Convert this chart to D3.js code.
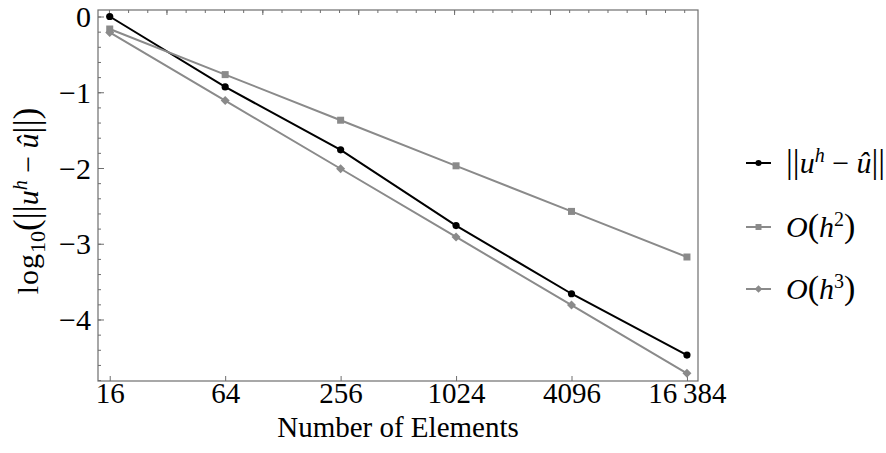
<!DOCTYPE html>
<html>
<head>
<meta charset="utf-8">
<script src="https://cdn.jsdelivr.net/npm/d3@7"></script>
<style>
  html, body { margin: 0; padding: 0; background: #fff; }
  svg text, svg tspan { font-family: "Liberation Serif", Tinos, "Times New Roman", "DejaVu Serif", serif !important; fill: #000; }
</style>
</head>
<body>
<svg id="chart" width="886" height="453"></svg>
<script>
// ---- data ----
const elements = [16, 64, 256, 1024, 4096, 16384];
const xTickLabels = ["16", "64", "256", "1024", "4096", "16\u2009384"];
const errorNorm = [0.0, -0.93, -1.76, -2.76, -3.66, -4.47];
const orderH2 = [-0.165, -0.767, -1.369, -1.971, -2.573, -3.175];
const orderH3 = [-0.21, -1.11, -2.01, -2.91, -3.81, -4.71];
const yTickValues = [0, -1, -2, -3, -4];
const yTickLabels = ["0", "\u22121", "\u22122", "\u22123", "\u22124"];

const series = [
  { name: "err", values: errorNorm, color: "#000000", marker: "circle" },
  { name: "h2", values: orderH2, color: "#8a8a8a", marker: "square" },
  { name: "h3", values: orderH3, color: "#8a8a8a", marker: "diamond" }
];

const FONT = '"Liberation Serif", Tinos, "Times New Roman", "DejaVu Serif", serif';
const svg = d3.select("#chart");
const pL = 98, pR = 698, pT = 10, pB = 381;

const x = d3.scaleLinear().domain([1.143, 4.272]).range([pL, pR]);
const y = d3.scaleLinear().domain([-4.812, 0.086]).range([pB, pT]);
const lx = n => x(Math.log10(n));

const frameColor = "#6e6e6e";

// frame
svg.append("rect")
  .attr("x", pL).attr("y", pT)
  .attr("width", pR - pL).attr("height", pB - pT)
  .attr("fill", "none").attr("stroke", frameColor).attr("stroke-width", 1.2);

// left axis ticks (inside)
const yMinor = d3.range(-4.8, 0.001, 0.2).map(v => Math.round(v * 10) / 10);
svg.append("g").attr("transform", `translate(${pL},0)`)
  .call(d3.axisLeft(y).tickValues(yMinor).tickSize(-3).tickFormat(""))
  .call(g => g.select(".domain").remove())
  .call(g => g.selectAll("line").attr("stroke", frameColor));
svg.append("g").attr("transform", `translate(${pL},0)`)
  .call(d3.axisLeft(y).tickValues(yTickValues).tickSize(-6)
    .tickFormat((d, i) => yTickLabels[i]).tickPadding(7))
  .attr("font-family", FONT)
  .call(g => g.select(".domain").remove())
  .call(g => g.selectAll("line").attr("stroke", frameColor))
  .call(g => g.selectAll("text").attr("font-size", 30).attr("fill", "#000").attr("dy", "0.34em"));

// bottom axis ticks (inside) with labels
svg.append("g").attr("transform", `translate(0,${pB})`)
  .call(d3.axisBottom(x).tickValues(elements.map(Math.log10)).tickSize(-5)
    .tickFormat((d, i) => xTickLabels[i]))
  .attr("font-family", FONT)
  .call(g => g.select(".domain").remove())
  .call(g => g.selectAll("line").attr("stroke", frameColor))
  .call(g => g.selectAll("text").attr("font-size", 29).attr("fill", "#000")
    .attr("y", 22).attr("dy", null));

// top axis ticks (inside, unlabeled)
const topMinor = d3.range(1.2, 4.2001, 0.1).map(v => Math.round(v * 10) / 10);
const topMajor = topMinor.filter(v => Math.abs(v * 2 - Math.round(v * 2)) < 1e-6);
svg.append("g").attr("transform", `translate(0,${pT})`)
  .call(d3.axisTop(x).tickValues(topMinor).tickSize(-3).tickFormat(""))
  .call(g => g.select(".domain").remove())
  .call(g => g.selectAll("line").attr("stroke", frameColor));
svg.append("g").attr("transform", `translate(0,${pT})`)
  .call(d3.axisTop(x).tickValues(topMajor).tickSize(-5).tickFormat(""))
  .call(g => g.select(".domain").remove())
  .call(g => g.selectAll("line").attr("stroke", frameColor));

// lines
const line = d3.line().x((d, i) => lx(elements[i])).y(d => y(d));
const plot = svg.append("g");
series.forEach(s => {
  plot.append("path").datum(s.values)
    .attr("d", line).attr("fill", "none")
    .attr("stroke", s.color).attr("stroke-width", 2);
});

function drawMarker(g, type, cx, cy, color, scale) {
  scale = scale || 1;
  if (type === "circle") {
    g.append("circle").attr("cx", cx).attr("cy", cy).attr("r", 3.6 * scale).attr("fill", color);
  } else if (type === "square") {
    const s = 7 * scale;
    g.append("rect").attr("x", cx - s / 2).attr("y", cy - s / 2).attr("width", s).attr("height", s).attr("fill", color);
  } else {
    const r = 4.5 * scale;
    g.append("path").attr("d", `M${cx},${cy - r}L${cx + r},${cy}L${cx},${cy + r}L${cx - r},${cy}Z`).attr("fill", color);
  }
}
series.forEach(s => {
  s.values.forEach((v, i) => drawMarker(plot, s.marker, lx(elements[i]), y(v), s.color));
});

// x label
svg.append("text").attr("x", 398).attr("y", 437).attr("text-anchor", "middle")
  .attr("font-family", FONT).attr("font-size", 29).text("Number of Elements");

// y label
const yl = svg.append("text").attr("transform", "translate(38,201) rotate(-90)")
  .attr("text-anchor", "middle").attr("font-family", FONT).attr("font-size", 30);
yl.append("tspan").attr("letter-spacing", 1).text("log");
yl.append("tspan").attr("font-size", 22).attr("dy", 7).text("10");
yl.append("tspan").attr("dy", -7).attr("font-size", 35).text("(||");
yl.append("tspan").attr("font-style", "italic").text("u");
yl.append("tspan").attr("font-style", "italic").attr("font-size", 20).attr("dy", -11).text("h");
yl.append("tspan").attr("dy", 11).text(" \u2212 ");
yl.append("tspan").attr("font-style", "italic").text("\u00fb");
yl.append("tspan").attr("font-size", 35).text("||)");

// legend
const legendRows = [163, 227, 289];
const lg = svg.append("g");
series.forEach((s, i) => {
  const cy = legendRows[i];
  lg.append("line").attr("x1", 746).attr("x2", 771).attr("y1", cy).attr("y2", cy)
    .attr("stroke", s.color).attr("stroke-width", 2);
  drawMarker(lg, s.marker, 758.5, cy, s.color, 0.85);
  const t = lg.append("text").attr("x", 786).attr("y", cy + 10)
    .attr("font-family", FONT).attr("font-size", 30);
  if (i === 0) {
    t.append("tspan").attr("font-size", 34).text("||");
    t.append("tspan").attr("font-style", "italic").text("u");
    t.append("tspan").attr("font-style", "italic").attr("font-size", 20).attr("dy", -11).text("h");
    t.append("tspan").attr("dy", 11).text(" \u2212 ");
    t.append("tspan").attr("font-style", "italic").text("\u00fb");
    t.append("tspan").attr("font-size", 34).text("||");
  } else {
    t.append("tspan").attr("font-style", "italic").text("O");
    t.append("tspan").attr("font-size", 34).text("(");
    t.append("tspan").attr("font-style", "italic").text("h");
    t.append("tspan").attr("font-size", 20).attr("dy", -11).text(i === 1 ? "2" : "3");
    t.append("tspan").attr("dy", 11).attr("font-size", 34).text(")");
  }
});
</script>
</body>
</html>
